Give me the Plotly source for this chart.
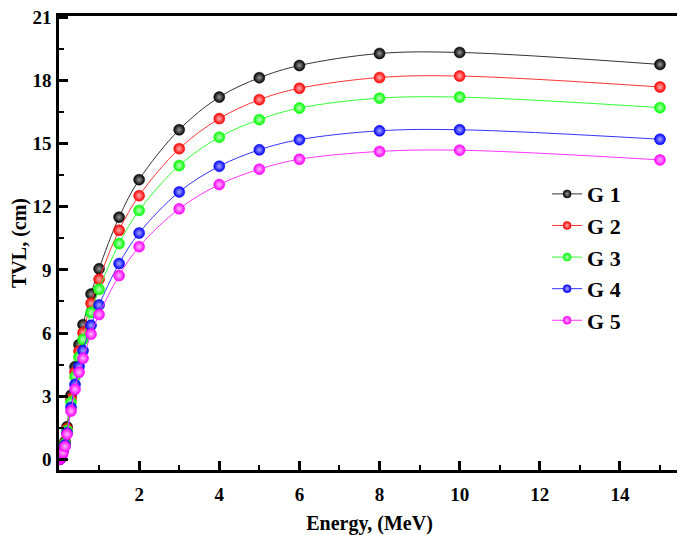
import plotly.graph_objects as go

energy = [0.015, 0.02, 0.03, 0.04, 0.05, 0.06, 0.08, 0.1, 0.15, 0.2, 0.3, 0.4, 0.5,
          0.6, 0.8, 1, 1.5, 2, 3, 4, 5, 6, 8, 10, 15]

g1 = [0.01, 0.02, 0.04, 0.08, 0.13, 0.20, 0.35, 0.50, 0.85, 1.55, 3.05, 4.40, 5.45,
      6.40, 7.85, 9.05, 11.50, 13.28, 15.65, 17.20, 18.12, 18.70, 19.27, 19.32, 18.75]
g2 = [0.01, 0.02, 0.04, 0.075, 0.12, 0.19, 0.33, 0.47, 0.80, 1.46, 2.88, 4.15, 5.14,
      6.02, 7.41, 8.55, 10.88, 12.52, 14.75, 16.18, 17.08, 17.62, 18.13, 18.20, 17.68]
g3 = [0.01, 0.02, 0.035, 0.07, 0.115, 0.18, 0.31, 0.45, 0.76, 1.38, 2.72, 3.93, 4.86,
      5.70, 6.98, 8.08, 10.25, 11.82, 13.95, 15.30, 16.13, 16.68, 17.15, 17.20, 16.70]
g4 = [0.01, 0.016, 0.032, 0.065, 0.105, 0.16, 0.28, 0.40, 0.69, 1.26, 2.47, 3.56, 4.41,
      5.17, 6.37, 7.33, 9.30, 10.75, 12.70, 13.92, 14.70, 15.18, 15.60, 15.65, 15.20]
g5 = [0.01, 0.015, 0.03, 0.06, 0.10, 0.15, 0.26, 0.33, 0.62, 1.20, 2.30, 3.33, 4.14,
      4.80, 5.95, 6.88, 8.73, 10.10, 11.90, 13.05, 13.78, 14.25, 14.62, 14.68, 14.22]

names = ["G 1", "G 2", "G 3", "G 4", "G 5"]
series = [g1, g2, g3, g4, g5]
colors = ["#000000", "#ff0000", "#00ff00", "#0000ff", "#ff00ff"]
line_colors = ["#333333", "#ff3333", "#33ff33", "#3333ff", "#ff33ff"]
highlights = ["#9a9a9a", "#ffb0b0", "#c0ffc0", "#a8a8ff", "#ffb8ff"]

x_range = [0, 15.5]
y_range = [-0.5, 21.05]
x_tickvals = [2, 4, 6, 8, 10, 12, 14]
x_minor = [1, 3, 5, 7, 9, 11, 13, 15]
y_tickvals = [0, 3, 6, 9, 12, 15, 18, 21]
y_minor = [1.5, 4.5, 7.5, 10.5, 13.5, 16.5, 19.5]

FONT = "Liberation Serif"

fig = go.Figure()
for name, vals, c, lc, hl in zip(names, series, colors, line_colors, highlights):
    fig.add_trace(go.Scatter(
        x=energy, y=vals, name=name, mode="lines+markers",
        showlegend=False,
        line=dict(color=lc, width=1, shape="spline"),
        marker=dict(size=11, color=c, line=dict(width=0.5, color=c),
                    gradient=dict(type="radial", color=hl)),
    ))
# legend entries (smaller symbols, as in the reference legend)
for name, c, lc, hl in zip(names, colors, line_colors, highlights):
    fig.add_trace(go.Scatter(
        x=[None], y=[None], name=name, mode="lines+markers",
        legendgroup=name, showlegend=True,
        line=dict(color=lc, width=1),
        marker=dict(size=8, color=c, line=dict(width=0.5, color=c),
                    gradient=dict(type="radial", color=hl)),
    ))
# empty trace that carries the inside tick axes
fig.add_trace(go.Scatter(x=[None], y=[None], xaxis="x2", yaxis="y2",
                         showlegend=False, hoverinfo="skip"))

label_axis = dict(
    showline=True, linewidth=2.5, linecolor="black", mirror=True,
    ticks="", showgrid=False, zeroline=False, automargin=False,
    tickfont=dict(family=FONT, size=19, color="black", weight="bold"),
    ticklabeloverflow="allow",
)
tick_axis = dict(
    showline=False, showgrid=False, zeroline=False, automargin=False,
    showticklabels=False, ticks="inside", ticklen=9, tickwidth=2.5, tickcolor="black",
)

fig.update_layout(
    width=677, height=527,
    margin=dict(l=51, r=5, t=8, b=65),
    paper_bgcolor="white", plot_bgcolor="white",
    font=dict(family=FONT, color="black"),
    xaxis=dict(
        range=x_range, tickmode="array", tickvals=x_tickvals,
        ticktext=[str(v) for v in x_tickvals],
        title=dict(text="<b>Energy, (MeV)</b>", font=dict(family=FONT, size=20), standoff=23),
        ticklabelstandoff=5,
        **label_axis,
    ),
    yaxis=dict(
        range=y_range, tickmode="array", tickvals=y_tickvals,
        ticktext=[str(v) for v in y_tickvals],
        title=dict(text="<b>TVL, (cm)</b>", font=dict(family=FONT, size=20), standoff=24),
        ticklabelstandoff=1,
        **label_axis,
    ),
    xaxis2=dict(
        range=x_range, overlaying="x", anchor="y2", side="bottom",
        tickmode="array", tickvals=x_tickvals,
        minor=dict(tickmode="array", tickvals=x_minor, ticks="inside",
                   ticklen=5, tickwidth=2, tickcolor="black"),
        **tick_axis,
    ),
    yaxis2=dict(
        range=y_range, overlaying="y", anchor="x2", side="left",
        tickmode="array", tickvals=y_tickvals,
        minor=dict(tickmode="array", tickvals=y_minor, ticks="inside",
                   ticklen=5, tickwidth=2, tickcolor="black"),
        **tick_axis,
    ),
    legend=dict(
        x=0.786, y=0.654, xanchor="left", yanchor="top",
        bgcolor="rgba(0,0,0,0)", borderwidth=0,
        font=dict(family=FONT, size=22, color="black", weight="bold"),
        tracegroupgap=0, itemsizing="trace",
    ),
    showlegend=True,
)

fig.write_html("out.html")
